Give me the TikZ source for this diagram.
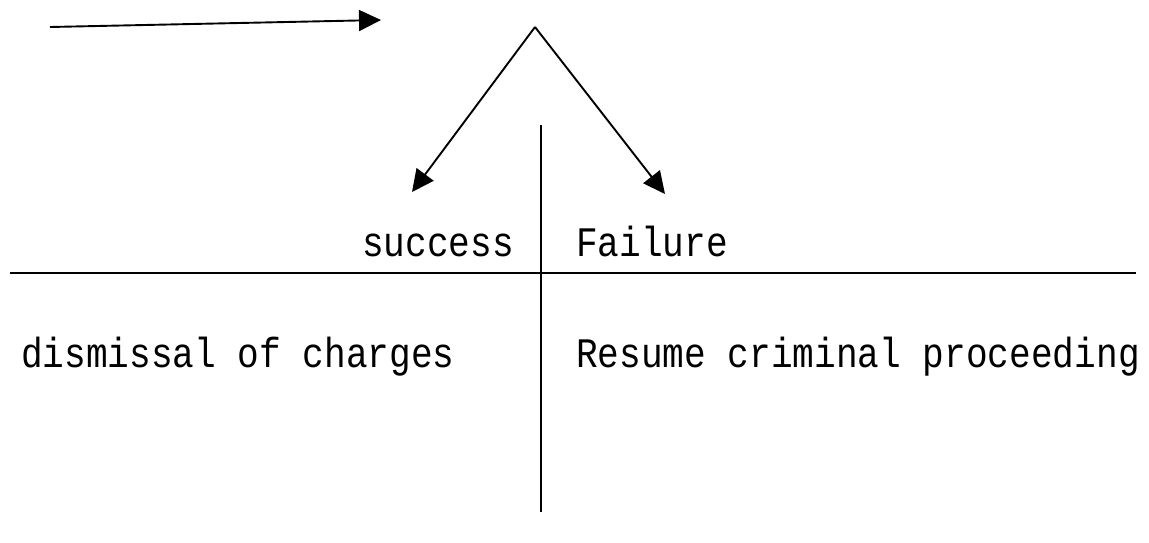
\documentclass[tikz,border=0pt]{standalone}
\usepackage{fontspec}
\setmainfont{Liberation Mono}
\newfontfamily\narrowmono[FakeStretch=0.86]{Liberation Mono}
\usetikzlibrary{arrows.meta}
\tikzset{
  conn/.style={line width=1.9pt, -{Triangle[length=22pt,width=21pt]}},
  rule/.style={line width=1.9pt},
  lbl/.style={inner sep=0pt, font=\narrowmono\fontsize{42}{46}\selectfont}
}
\begin{document}
\begin{tikzpicture}[x=1pt,y=-1pt]
\useasboundingbox (0,0) rectangle (1149,542);
\coordinate (a0) at (50,27);
\coordinate (a1) at (381,20);
\coordinate (apex) at (535,27);
\coordinate (l) at (412,192);
\coordinate (r) at (665,194);
\coordinate (vt) at (541,125);
\coordinate (vb) at (541,512);
\coordinate (hl) at (10,273);
\coordinate (hr) at (1136,273);
\draw[conn] (a0) -- (a1);
\draw[conn] (apex) -- (l);
\draw[conn] (apex) -- (r);
\draw[rule] (vt) -- (vb);
\draw[rule] (hl) -- (hr);
\node[lbl, anchor=base east] (succ) at (514,256) {success};
\node[lbl, anchor=base west] (fail) at (576,256) {Failure};
\node[lbl, anchor=base west] (dis) at (21,367) {dismissal of charges};
\node[lbl, anchor=base west] (res) at (576,367) {Resume criminal proceeding};
\end{tikzpicture}
\end{document}
